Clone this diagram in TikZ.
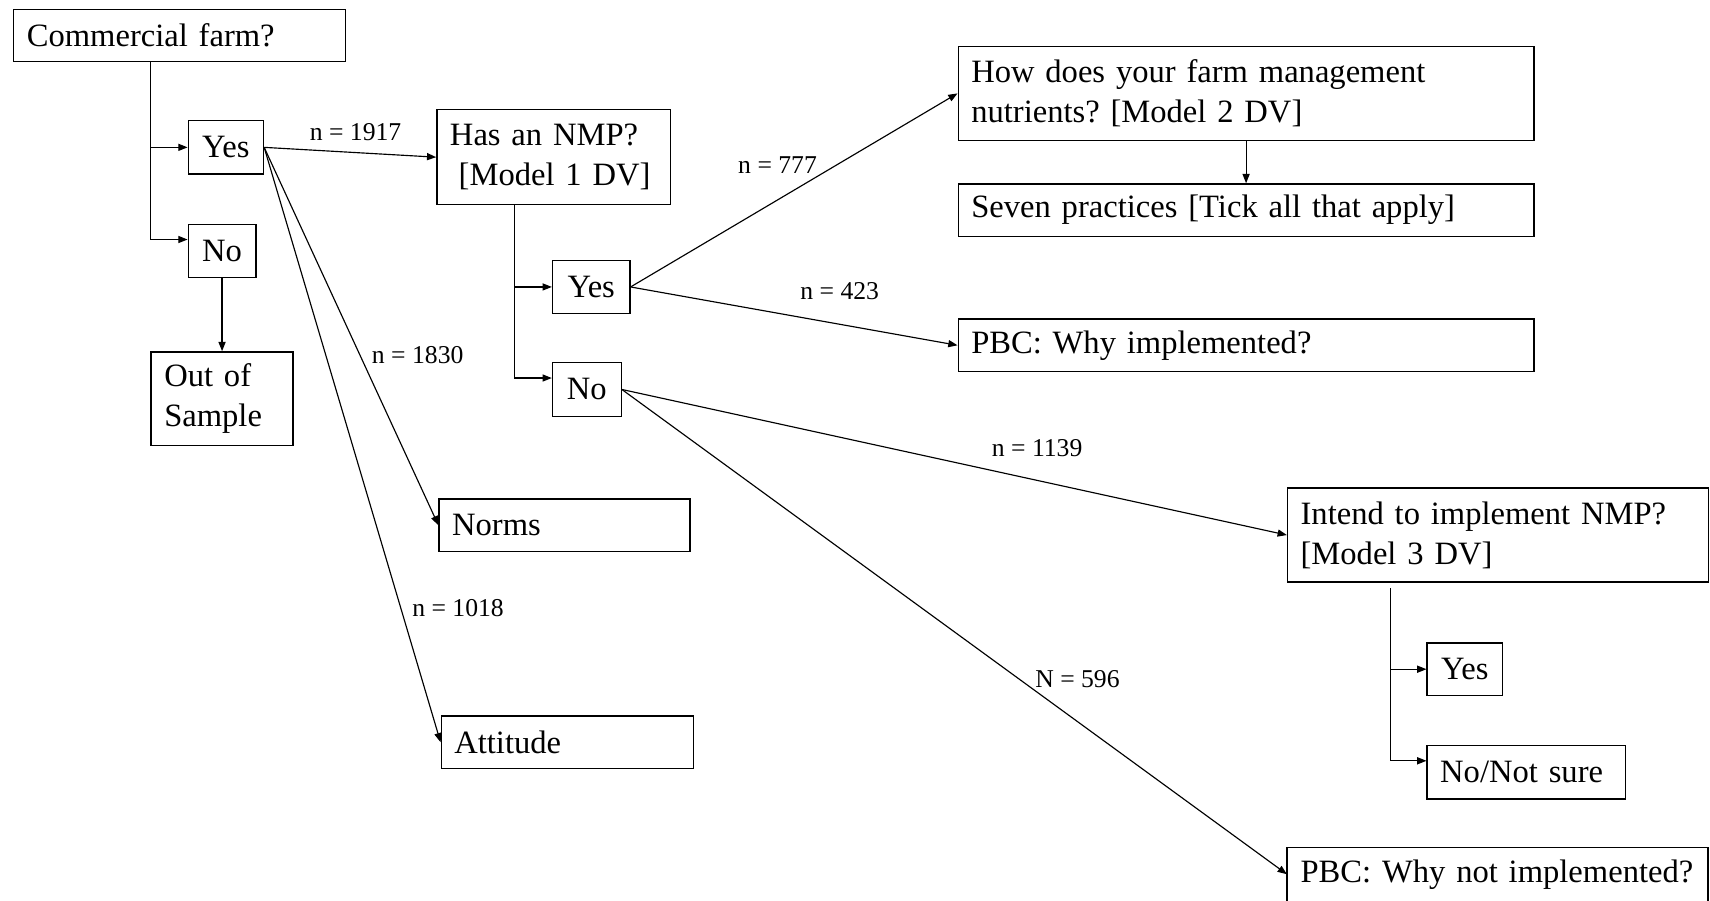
\documentclass[tikz,border=0pt]{standalone}
\usepackage{fontspec}
\setmainfont{Liberation Serif}
\usetikzlibrary{arrows.meta,calc}
\frenchspacing
\begin{document}
\begin{tikzpicture}[x=0.02cm,y=-0.02cm,
  every node/.style={font=\fontsize{17}{21}\selectfont},
  lbox/.style n args={3}{draw,line width=0.7pt,anchor=north west,align=left,
    inner xsep=12*0.02cm,inner ysep=0pt,text width=(#1-24)*0.02cm,
    minimum height=#2*0.02cm,execute at begin node={\hyphenpenalty=10000}},
  cbox/.style n args={2}{draw,line width=0.7pt,anchor=north west,align=center,
    inner sep=0pt,minimum width=#1*0.02cm,minimum height=#2*0.02cm},
  arr/.style={line width=0.6pt,-{Triangle[length=0.17cm,width=0.13cm]}},
  lab/.style={font=\fontsize{13.4}{15}\selectfont,inner sep=1pt}]
\useasboundingbox (0,0) rectangle (1568,826);
% boxes
\node[lbox={304}{48}{}] (cf) at (12,8) {Commercial farm?};
\node[cbox={69}{49}] (yes1) at (172,110) {Yes};
\node[cbox={62}{49}] (no1) at (172,205) {No};
\node[lbox={130}{86}{}] (oos) at (138,322) {Out of\\Sample};
\node[lbox={214}{87}{}] (nmp) at (400,100) {Has an NMP?\\\hspace{0.16cm}[Model 1 DV]};
\node[cbox={71}{49}] (yes2) at (506,238) {Yes};
\node[cbox={63}{49}] (no2) at (506,332) {No};
\node[lbox={230}{48}{}] (norms) at (402,457) {Norms};
\node[lbox={231}{48}{}] (att) at (404,656) {Attitude};
\node[lbox={528}{86}{}] (how) at (878,42) {How does your farm management\\nutrients? [Model 2 DV]};
\node[lbox={528}{48}{}] (seven) at (878,168) {Seven practices [Tick all that apply]};
\node[lbox={528}{48}{}] (pbc1) at (878,292) {PBC: Why implemented?};
\node[lbox={386}{86}{}] (intend) at (1180,447) {Intend to implement NMP?\\{}[Model 3 DV]};
\node[cbox={69}{48}] (yes3) at (1308,589) {Yes};
\node[lbox={182}{49}{}] (nns) at (1308,683) {No/Not sure};
\node[lbox={430}{48}{},draw=none] (pbc2) at (1180,777) {PBC: Why not implemented?};
\draw[line width=0.7pt] ([yshift=-0.4cm]pbc2.south west) -- (pbc2.north west)
  -- ($(pbc2.north west)+(386,0)$) -- ($(pbc2.south west)+(386,20)$);
% trunk coordinates
\coordinate (t1) at (138,0);
\coordinate (t2) at (472,0);
\coordinate (t3) at (1275,0);
% connectors
\draw[arr] (cf.south -| t1) |- (yes1.west);
\draw[arr] (cf.south -| t1) |- ([yshift=0.21cm]no1.west);
\draw[arr] (no1.south) -- (no1.south |- oos.north);
\draw[arr] (yes1.east) -- (nmp.west);
\draw[arr] (yes1.east) -- (norms.west);
\draw[arr] (yes1.east) -- (att.west);
\draw[arr] (nmp.south -| t2) |- (yes2.west);
\draw[arr] (nmp.south -| t2) |- ([yshift=0.21cm]no2.west);
\draw[arr] (yes2.east) -- (how.west);
\draw[arr] (yes2.east) -- (pbc1.west);
\draw[arr] (how.south) -- (seven.north);
\draw[arr] (no2.east) -- (intend.west);
\draw[arr] (no2.east) -- (pbc2.west);
\draw[arr] ([yshift=-0.1cm]intend.south -| t3) |- (yes3.west);
\draw[arr] ([yshift=-0.1cm]intend.south -| t3) |- ([yshift=0.21cm]nns.west);
% labels
\node[lab] (l1917) at (326,121) {n = 1917};
\node[lab] (l1830) at (383,326) {n = 1830};
\node[lab] (l1018) at (420,558) {n = 1018};
\node[lab] (l777) at (713,151) {n = 777};
\node[lab] (l423) at (770,267) {n = 423};
\node[lab] (l1139) at (951,411) {n = 1139};
\node[lab] (l596) at (988,623) {N = 596};
\end{tikzpicture}
\end{document}
